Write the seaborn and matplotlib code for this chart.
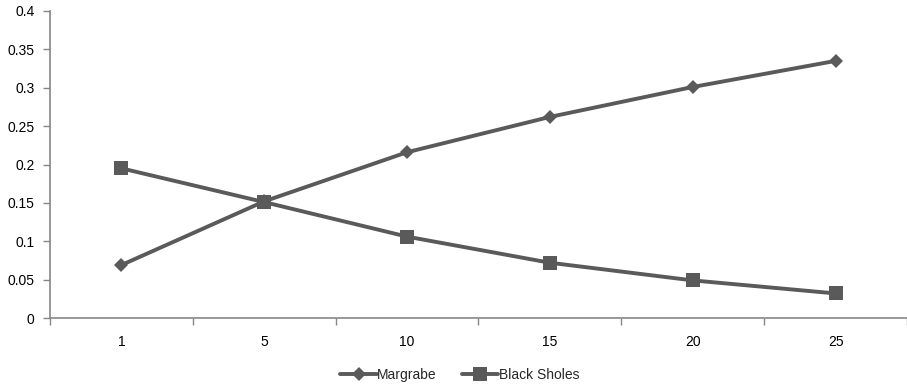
import matplotlib
matplotlib.use("Agg")
import matplotlib.pyplot as plt
import seaborn as sns
import pandas as pd
import numpy as np

categories = ["1", "5", "10", "15", "20", "25"]
margrabe = [0.069, 0.152, 0.216, 0.262, 0.301, 0.335]
black_sholes = [0.195, 0.151, 0.106, 0.072, 0.049, 0.032]
y_ticks = [0, 0.05, 0.1, 0.15, 0.2, 0.25, 0.3, 0.35, 0.4]
y_tick_labels = ["0", "0.05", "0.1", "0.15", "0.2", "0.25", "0.3", "0.35", "0.4"]

sns.set_theme(style="white")
plt.rcParams['font.family'] = ['Liberation Sans', 'DejaVu Sans']

pos = np.arange(len(categories))
df = pd.DataFrame({
    "pos": np.concatenate([pos, pos]),
    "value": margrabe + black_sholes,
    "series": ["Margrabe"] * len(categories) + ["Black Sholes"] * len(categories),
})

fig = plt.figure(figsize=(9.07, 3.88), dpi=100)
ax = fig.add_axes([50/907, 70/388, 857/907, 307/388])

line_color = "#5a5a5a"
sns.lineplot(data=df, x="pos", y="value", style="series",
             markers={"Margrabe": "D", "Black Sholes": "s"},
             dashes=False, color=line_color, linewidth=2.8,
             markersize=9, markeredgewidth=0, ax=ax, legend=False)
for line in ax.get_lines():
    if line.get_marker() == "D":
        line.set_markersize(7.5)
    elif line.get_marker() == "s":
        line.set_markersize(9.5)

ax.set_xlim(-0.5, len(categories) - 0.5)
ax.set_ylim(0, 0.4)
ax.set_xlabel("")
ax.set_ylabel("")

ax.set_yticks(y_ticks)
ax.set_yticklabels(y_tick_labels)
ax.set_xticks(np.arange(-0.5, len(categories) + 0.5, 1.0))
ax.set_xticklabels([])
ax.set_xticks(pos, minor=True)
ax.set_xticklabels(categories, minor=True)
ax.tick_params(axis="x", which="major", direction="out", length=5, width=1, color="#868686", bottom=True)
ax.tick_params(axis="x", which="minor", length=0, pad=12, labelsize=10, labelcolor="black")
ax.tick_params(axis="y", direction="out", length=5, width=1, color="#868686", left=True, labelsize=10, labelcolor="black", pad=6)

for s in ["top", "right"]:
    ax.spines[s].set_visible(False)
for s in ["left", "bottom"]:
    ax.spines[s].set_color("#868686")
    ax.spines[s].set_linewidth(1.2)

from matplotlib.lines import Line2D
handles = [
    Line2D([0], [0], color=line_color, lw=2.8, marker="D", markersize=7.5, markeredgewidth=0),
    Line2D([0], [0], color=line_color, lw=2.8, marker="s", markersize=9.5, markeredgewidth=0),
]
fig.legend(handles, ["Margrabe", "Black Sholes"], loc="center", bbox_to_anchor=(0.507, 1 - 375/388),
           ncol=2, frameon=False, fontsize=10, handlelength=2.6, handletextpad=0.05,
           columnspacing=1.8)

fig.savefig("out.png", dpi=100)
